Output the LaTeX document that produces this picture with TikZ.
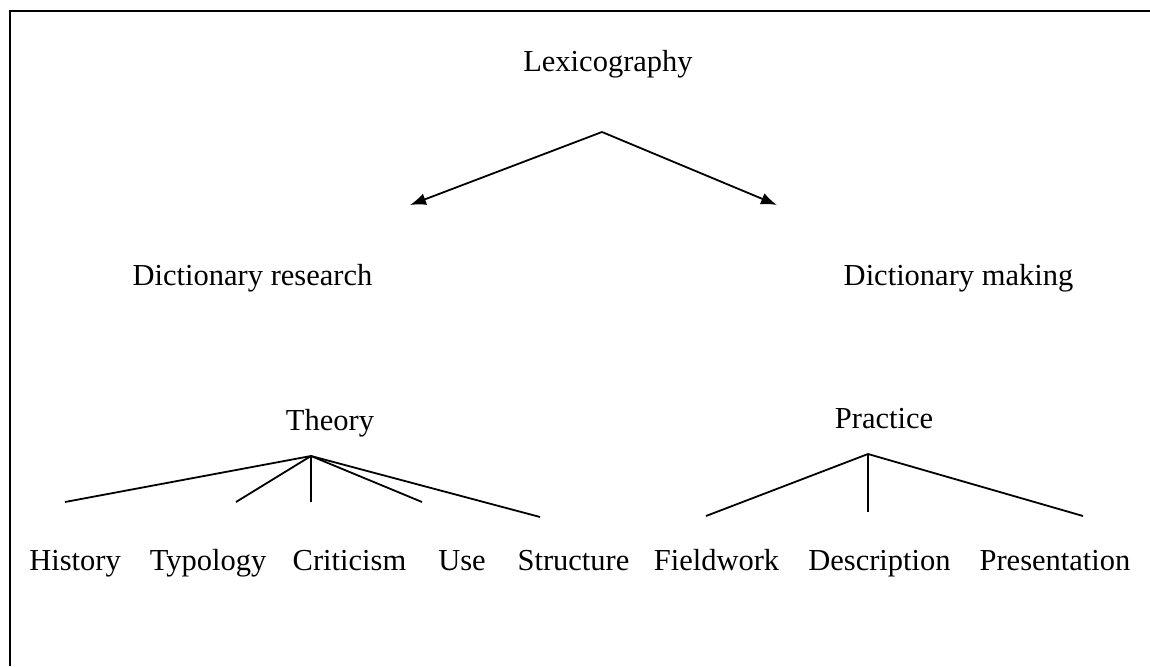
\documentclass[tikz,border=0pt]{standalone}
\usepackage{fontspec}
\setmainfont{Liberation Serif}
\usetikzlibrary{arrows.meta}

\begin{document}
\begin{tikzpicture}[x=1pt, y=-1pt, >={Latex[length=16pt,width=12pt]},
    term/.style={anchor=base, inner sep=0pt, font=\fontsize{30.5}{36}\selectfont},
    branch/.style={line width=1.8pt}]
  \useasboundingbox (0,0) rectangle (1150,666);
  % frame, open to the right and bottom
  \draw[line width=2.2pt] (10,666) -- (10,11) -- (1150,11);
  % headings
  \node[term] (lex) at (608,72) {Lexicography};
  \node[term] (research) at (252.5,285) {Dictionary research};
  \node[term] (making) at (958.5,285) {Dictionary making};
  \node[term] (theory) at (330,430) {Theory};
  \node[term] (practice) at (884,428) {Practice};
  % leaves
  \foreach \name/\x/\txt in {history/75/History, typology/208/Typology,
      criticism/349.5/Criticism, use/462/Use, structure/573.5/Structure,
      fieldwork/716.5/Fieldwork, description/879.5/Description,
      presentation/1055/Presentation}
    \node[term] (\name) at (\x,570) {\txt};
  % fork points and line ends
  \coordinate (lexfork) at (602,132);
  \coordinate (researchtip) at (410,205);
  \coordinate (makingtip) at (777,205);
  \coordinate (theoryfork) at (311,456);
  \coordinate (practicefork) at (868,454);
  \draw[branch, ->] (lexfork) -- (researchtip);
  \draw[branch, ->] (lexfork) -- (makingtip);
  \foreach \x/\y in {65/502, 236/502, 311/502, 422/502, 540/517}
    \draw[branch] (theoryfork) -- (\x,\y);
  \foreach \x/\y in {706/516, 868/512, 1083/516}
    \draw[branch] (practicefork) -- (\x,\y);
\end{tikzpicture}
\end{document}
